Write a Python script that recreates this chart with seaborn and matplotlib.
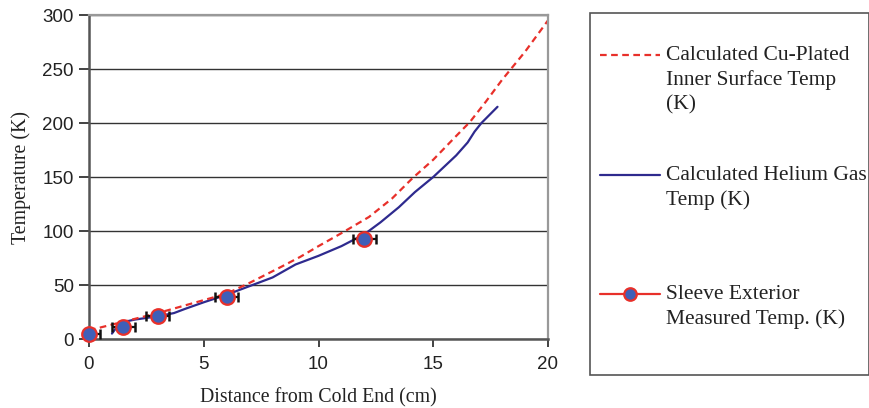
import numpy as np
import pandas as pd
import matplotlib
matplotlib.use("Agg")
import matplotlib.pyplot as plt
from matplotlib.lines import Line2D
from matplotlib.patches import Rectangle
import seaborn as sns

sns.set_theme(style="white")
plt.rcParams["font.family"] = ["Liberation Sans", "DejaVu Sans"]

# Calculated Cu-plated inner surface temperature (K)
surf_x = [0.0, 1.5, 3.0, 4.5, 6.0, 7.0, 8.3, 9.2, 10.0, 11.0, 12.2, 13.2, 14.1, 15.0, 16.0, 16.6, 17.3, 18.0, 19.0, 20.0]
surf_t = [8, 16, 24, 33, 42, 52, 66, 76, 86, 98, 113, 130, 149, 166, 188, 201, 220, 240, 266, 295]

# Calculated helium gas temperature (K)
gas_x = [1.0, 1.35, 2.0, 3.0, 3.7, 4.2, 5.0, 6.0, 7.0, 8.0, 8.5, 9.0, 10.0, 11.0, 12.0, 12.7, 13.5, 14.2, 15.0, 15.5, 16.0, 16.5, 16.8, 17.1, 17.8]
gas_t = [5, 15, 18, 21, 24, 28, 34, 41, 49, 57, 63, 69, 77, 86, 97, 108, 122, 136, 150, 160, 170, 182, 192, 200, 215]

# Sleeve exterior measured temperature (K) with position uncertainty (cm)
meas_x = [0.0, 1.5, 3.0, 6.0, 12.0]
meas_t = [5, 11, 21, 39, 93]
meas_xerr = [0.5, 0.5, 0.5, 0.5, 0.5]

labels = ["Calculated Cu-Plated\nInner Surface Temp\n(K)",
          "Calculated Helium Gas\nTemp (K)\n",
          "Sleeve Exterior\nMeasured Temp. (K)"]

red = "#E8302A"
navy = "#2E2A8E"
blue = "#3F5FB8"

surf = pd.DataFrame({"x": surf_x, "t": surf_t})
gas = pd.DataFrame({"x": gas_x, "t": gas_t})
meas = pd.DataFrame({"x": meas_x, "t": meas_t})

W, H = 870, 408
fig = plt.figure(figsize=(W / 100, H / 100), dpi=100)
ax = fig.add_axes([89 / W, 1 - 339 / H, (548 - 89) / W, (339 - 15) / H])

ax.yaxis.grid(True, color="#333333", linewidth=1.0)
ax.set_axisbelow(True)

sns.lineplot(data=gas, x="x", y="t", ax=ax, color=navy, linewidth=1.6,
             sort=False, estimator=None, legend=False)
sns.lineplot(data=surf, x="x", y="t", ax=ax, color=red, linewidth=1.6,
             linestyle=(0, (3, 2)), sort=False, estimator=None, legend=False)
ax.errorbar(meas_x, meas_t, xerr=meas_xerr, fmt="none", ecolor="#111111",
            elinewidth=1.6, capsize=3.8, capthick=1.8, zorder=4)
sns.scatterplot(data=meas, x="x", y="t", ax=ax, s=110, color=blue,
                edgecolor=red, linewidth=1.6, zorder=5, legend=False,
                clip_on=False)

ax.set_xlim(0, 20)
ax.set_ylim(0, 300)
ax.set_xticks([0, 5, 10, 15, 20])
ax.set_yticks(range(0, 301, 50))
ax.tick_params(axis="both", labelsize=13.5, colors="#222222", length=6,
               width=1.2, direction="out", bottom=True, left=True)
ax.tick_params(axis="x", pad=6)
ax.tick_params(axis="y", pad=4, length=7)

for side in ["left", "bottom"]:
    ax.spines[side].set_color("#555555")
    ax.spines[side].set_linewidth(1.8)
for side in ["top", "right"]:
    ax.spines[side].set_color("#999999")
    ax.spines[side].set_linewidth(1.6)

serif = ["Liberation Serif", "DejaVu Serif"]
ax.set_xlabel("Distance from Cold End (cm)", fontsize=14.3, family=serif,
              color="#222222", labelpad=11)
ax.set_ylabel("Temperature (K)", fontsize=14.3, family=serif,
              color="#222222", labelpad=8)

# legend frame
fig.patches.append(Rectangle((590 / W, 1 - 375 / H), (869 - 590) / W, (375 - 13) / H,
                             transform=fig.transFigure, facecolor="white",
                             edgecolor="#555555", linewidth=1.2, zorder=0))

handles = [
    Line2D([], [], color=red, linewidth=1.6, linestyle=(0, (3, 2))),
    Line2D([], [], color=navy, linewidth=1.6),
    Line2D([], [], color=red, linewidth=1.6, marker="o", markersize=9,
           markerfacecolor=blue, markeredgecolor=red, markeredgewidth=1.6),
]
leg = fig.legend(handles, labels, loc="upper left",
                 bbox_to_anchor=(600 / W, 1 - 46 / H),
                 prop={"family": serif, "size": 15.5},
                 frameon=False, handlelength=2.8, handleheight=1.0,
                 handletextpad=0.28, labelspacing=2.4,
                 borderpad=0, borderaxespad=0)
for col in leg._legend_handle_box.get_children():
    for item in col.get_children():
        item.align = "top"
for t in leg.get_texts():
    t.set_color("#222222")
    t.set_linespacing(1.35)

fig.savefig("out.png", dpi=100, facecolor="white")
